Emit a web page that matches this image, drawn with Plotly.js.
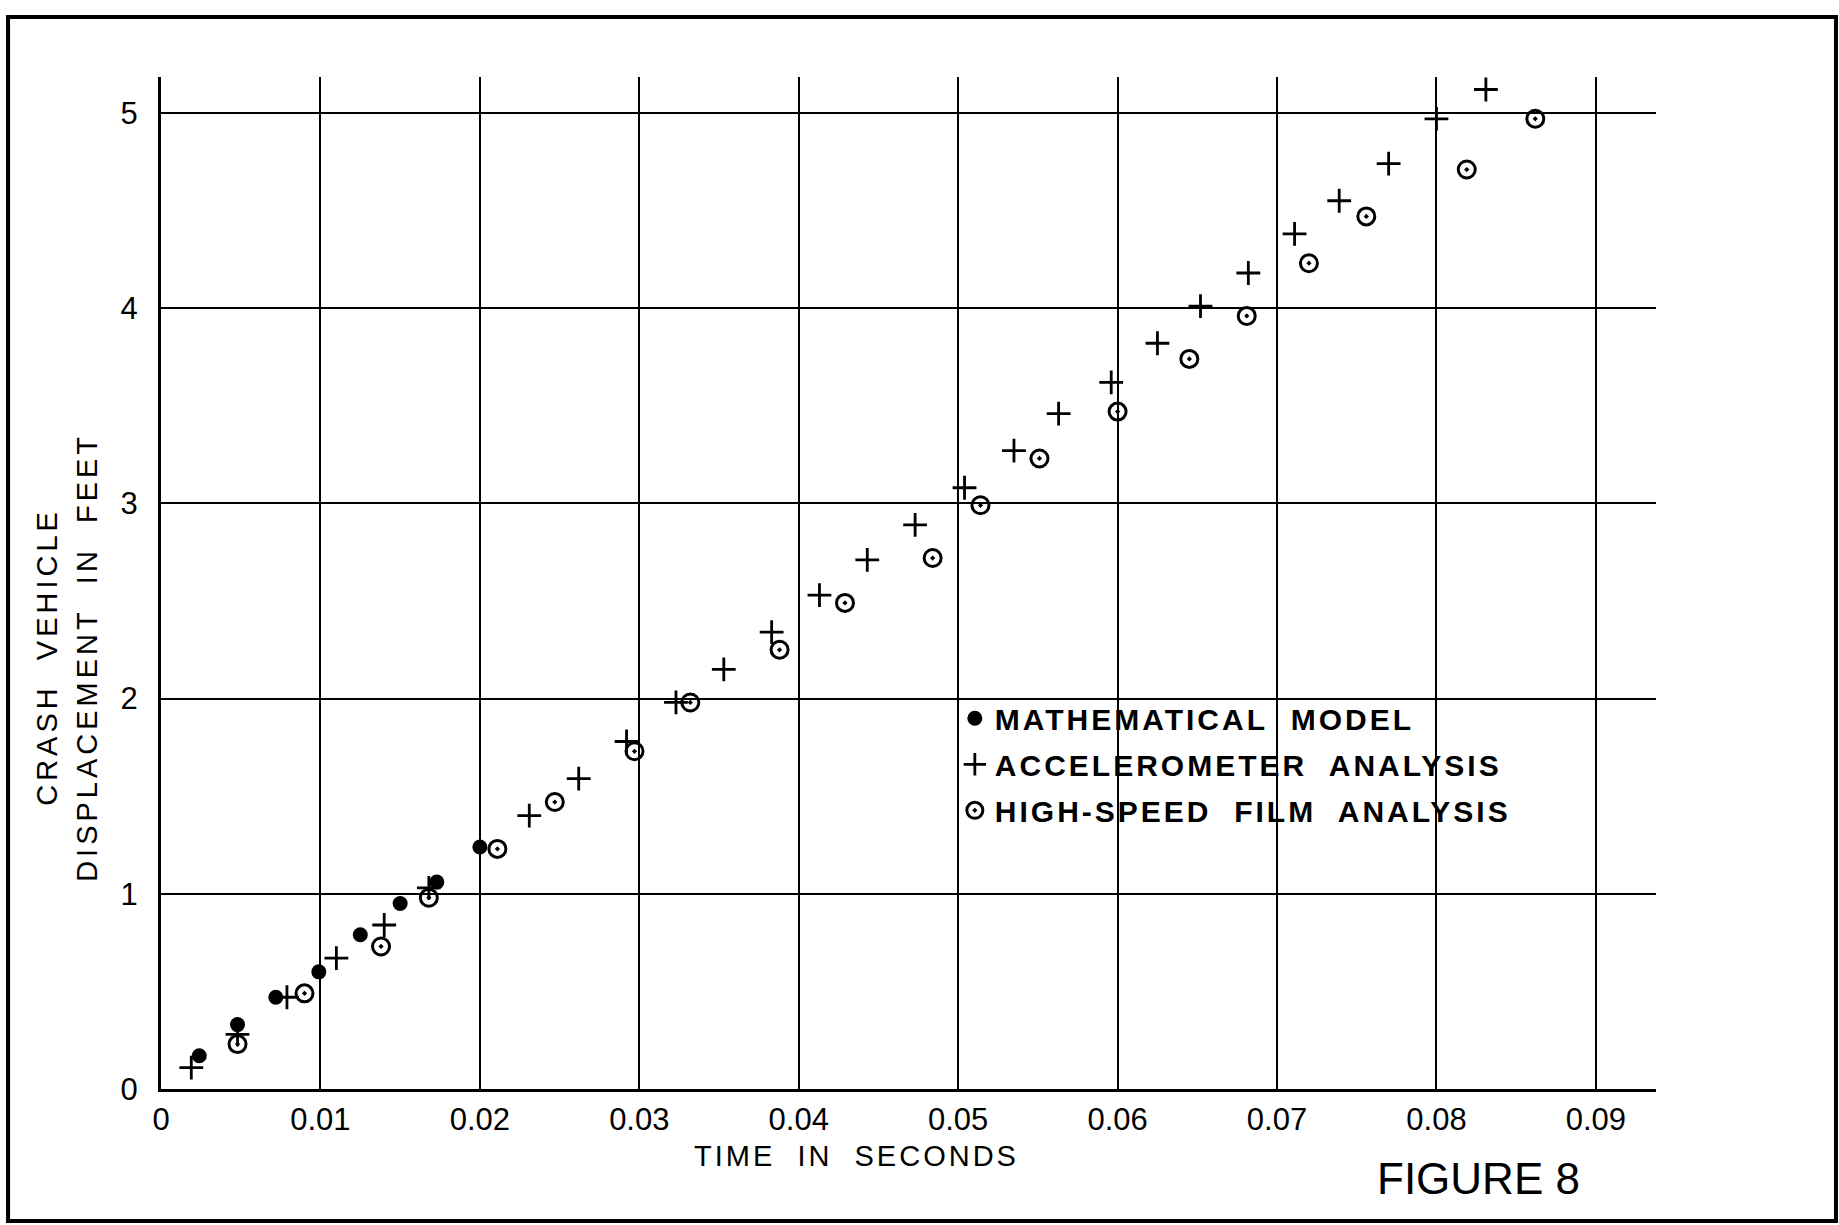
<!DOCTYPE html>
<html>
<head>
<meta charset="utf-8">
<script src="https://cdn.plot.ly/plotly-3.0.1.min.js"></script>
<style>html,body{margin:0;padding:0;background:#fff;}</style>
</head>
<body>
<div id="chart" style="width:1839px;height:1225px;"></div>
<script>
// Mathematical model (filled dots)
const modelTime = [0.0024, 0.0048, 0.0072, 0.0099, 0.0125, 0.0150, 0.0173, 0.0200];
const modelDisp = [0.17, 0.33, 0.47, 0.60, 0.79, 0.95, 1.06, 1.24];

// Accelerometer analysis (+)
const accelTime = [0.0019, 0.0048, 0.0079, 0.0110, 0.0140, 0.0168, 0.0231, 0.0262, 0.0292, 0.0323,
                   0.0353, 0.0383, 0.0413, 0.0443, 0.0473, 0.0504, 0.0535, 0.0563, 0.0596, 0.0625,
                   0.0652, 0.0682, 0.0711, 0.0739, 0.0770, 0.0800, 0.0831];
const accelDisp = [0.11, 0.28, 0.47, 0.67, 0.84, 1.03, 1.40, 1.59, 1.78, 1.98,
                   2.15, 2.34, 2.53, 2.71, 2.89, 3.08, 3.27, 3.46, 3.62, 3.82,
                   4.01, 4.18, 4.38, 4.55, 4.74, 4.97, 5.12];

// High-speed film analysis (circles)
const filmTime = [0.0048, 0.0090, 0.0138, 0.0168, 0.0211, 0.0247, 0.0297, 0.0332, 0.0388, 0.0429,
                  0.0484, 0.0514, 0.0551, 0.0600, 0.0645, 0.0681, 0.0720, 0.0756, 0.0819, 0.0862];
const filmDisp = [0.23, 0.49, 0.73, 0.98, 1.23, 1.47, 1.73, 1.98, 2.25, 2.49,
                  2.72, 2.99, 3.23, 3.47, 3.74, 3.96, 4.23, 4.47, 4.71, 4.97];

const xTickVals = [0, 0.01, 0.02, 0.03, 0.04, 0.05, 0.06, 0.07, 0.08, 0.09];
const xTickText = ["0", "0.01", "0.02", "0.03", "0.04", "0.05", "0.06", "0.07", "0.08", "0.09"];
const yTickVals = [0, 1, 2, 3, 4, 5];
const yTickText = ["0", "1", "2", "3", "4", "5"];

const seriesNames = ["MATHEMATICAL\u00a0 MODEL", "ACCELEROMETER\u00a0 ANALYSIS", "HIGH-SPEED\u00a0 FILM\u00a0 ANALYSIS"];
const xTitle = "TIME\u00a0 IN\u00a0 SECONDS";
const yTitle1 = "CRASH\u00a0 VEHICLE";
const yTitle2 = "DISPLACEMENT\u00a0 IN\u00a0 FEET";
const figLabel = "FIGURE 8";

const FONT = "Liberation Sans, Arial, sans-serif";
const sp = (t, ls) => '<span style="letter-spacing:' + ls + 'px">' + t + '</span>';

const traces = [
  {
    x: modelTime, y: modelDisp, type: 'scatter', mode: 'markers',
    name: sp(seriesNames[0], 3), legendgroup: 'a',
    marker: {symbol: 'circle', size: 15, color: '#000'}
  },
  {
    x: accelTime, y: accelDisp, type: 'scatter', mode: 'markers',
    name: sp(seriesNames[1], 3), legendgroup: 'b',
    marker: {symbol: 'cross-thin-open', size: 17, color: '#000', line: {width: 2.8, color: '#000'}}
  },
  {
    x: filmTime, y: filmDisp, type: 'scatter', mode: 'markers',
    name: sp(seriesNames[2], 3), legendgroup: 'c',
    marker: {symbol: 'circle-open-dot', size: 17, color: '#000', line: {width: 3, color: '#000'}}
  }
];

const axisCommon = {
  showgrid: true, gridcolor: '#000', gridwidth: 2,
  showline: true, linecolor: '#000', linewidth: 3,
  zeroline: false, ticks: 'outside', tickcolor: 'rgba(0,0,0,0)',
  tickfont: {family: FONT, size: 31, color: '#000'},
  fixedrange: true
};

const layout = {
  width: 1839, height: 1225,
  margin: {l: 161, r: 183, t: 77, b: 136, pad: 0},
  paper_bgcolor: '#fff', plot_bgcolor: '#fff',
  font: {family: FONT, color: '#000'},
  xaxis: Object.assign({}, axisCommon, {
    range: [0, 0.09377], tickmode: 'array', tickvals: xTickVals, ticktext: xTickText, ticklen: 1
  }),
  yaxis: Object.assign({}, axisCommon, {
    range: [0, 5.184], tickmode: 'array', tickvals: yTickVals, ticktext: yTickText, ticklen: 14
  }),
  showlegend: true,
  legend: {
    x: 0.531, y: 0.392, xanchor: 'left', yanchor: 'top',
    bgcolor: 'rgba(0,0,0,0)', borderwidth: 0,
    traceorder: 'grouped', tracegroupgap: 4,
    font: {family: FONT, size: 30, color: '#000', weight: 'bold'}
  },
  annotations: [
    {xref: 'paper', yref: 'paper', x: -0.0763, y: 0.427, text: sp(yTitle1, 4), textangle: -90,
     showarrow: false, xanchor: 'center', yanchor: 'middle', font: {family: FONT, size: 29, color: '#000'}},
    {xref: 'paper', yref: 'paper', x: -0.0495, y: 0.427, text: sp(yTitle2, 4), textangle: -90,
     showarrow: false, xanchor: 'center', yanchor: 'middle', font: {family: FONT, size: 29, color: '#000'}},
    {xref: 'paper', yref: 'paper', x: 0.4649, y: -0.0662, text: sp(xTitle, 3),
     showarrow: false, xanchor: 'center', yanchor: 'middle', font: {family: FONT, size: 29, color: '#000'}},
    {xref: 'paper', yref: 'paper', x: 0.881, y: -0.0889, text: figLabel,
     showarrow: false, xanchor: 'center', yanchor: 'middle', font: {family: FONT, size: 44, color: '#000'}}
  ],
  shapes: [
    {type: 'rect', xref: 'paper', yref: 'paper', x0: -0.1023, x1: 1.1204, y0: -0.1304, y1: 1.0593,
     line: {color: '#000', width: 4}, fillcolor: 'rgba(0,0,0,0)', layer: 'above'}
  ]
};

Plotly.newPlot('chart', traces, layout, {displayModeBar: false, staticPlot: true});
</script>
</body>
</html>
